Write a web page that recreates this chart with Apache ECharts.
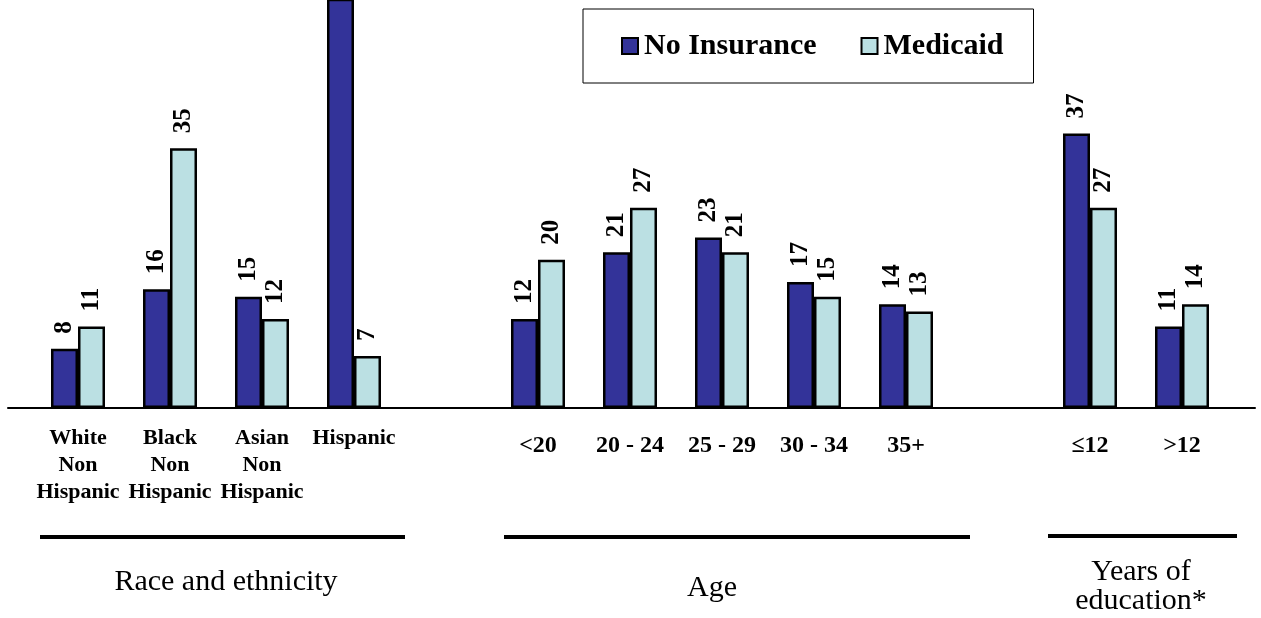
<!DOCTYPE html>
<html>
<head>
<meta charset="utf-8">
<script src="https://cdn.jsdelivr.net/npm/echarts@6/dist/echarts.min.js"></script>
<style>
html,body{margin:0;padding:0;background:#fff;}
#chart{width:1261px;height:618px;}
</style>
</head>
<body>
<div id="chart"></div>
<script>
// ---- data ----
var categories = ['White\nNon\nHispanic', 'Black\nNon\nHispanic', 'Asian\nNon\nHispanic', 'Hispanic', ' ',
  '<20', '20 - 24', '25 - 29', '30 - 34', '35+', '  ',
  '\u226412', '>12'];
var seriesNames = ['No Insurance', 'Medicaid'];
var noInsurance = [8, 16, 15, 57, null, 12, 21, 23, 17, 14, null, 37, 11];
var medicaid    = [11, 35, 12, 7, null, 20, 27, 21, 15, 13, null, 27, 14];
var groupTitles = ['Race and ethnicity', 'Age', 'Years of\neducation*'];

var FONT = '"Liberation Serif", "Times New Roman", serif';
var chart = echarts.init(document.getElementById('chart'));

function barSeries(name, data, color) {
  return {
    name: name,
    type: 'bar',
    data: data,
    barWidth: 27,
    barGap: '0%',
    clip: true,
    itemStyle: { color: color, borderColor: '#000', borderWidth: 2.5 },
    label: {
      show: true,
      position: 'top',
      rotate: 90,
      align: 'left',
      verticalAlign: 'middle',
      distance: 15,
      fontFamily: FONT,
      fontWeight: 'bold',
      fontSize: 25,
      color: '#000'
    }
  };
}

var option = {
  animation: false,
  backgroundColor: '#fff',
  legend: {
    data: seriesNames,
    left: 583,
    top: 9,
    orient: 'horizontal',
    padding: [22, 30, 22, 38],
    borderColor: '#000',
    borderWidth: 1,
    itemWidth: 16,
    itemHeight: 16,
    itemGap: 44,
    icon: 'rect',
    textStyle: { fontFamily: FONT, fontWeight: 'bold', fontSize: 30, color: '#000', padding: [0, 0, 0, 1] }
  },
  grid: [
    { left: 32, right: 33, top: 0, height: 408, containLabel: false },
    { left: 8, right: 6, top: 0, height: 408, containLabel: false }
  ],
  xAxis: [
    {
      type: 'category',
      gridIndex: 0,
      data: categories,
      boundaryGap: true,
      axisLine: { show: false },
      axisTick: { show: false },
      axisLabel: {
        interval: 0,
        margin: 17,
        formatter: function (v, i) {
          return (i <= 4) ? '{a|' + v + '}' : '{b|' + v + '}';
        },
        rich: {
          a: { fontFamily: FONT, fontWeight: 'bold', fontSize: 22, lineHeight: 27, color: '#000', align: 'center' },
          b: { fontFamily: FONT, fontWeight: 'bold', fontSize: 24, lineHeight: 27, color: '#000', padding: [15, 0, 0, 0], align: 'center' }
        }
      }
    },
    {
      type: 'value',
      gridIndex: 1,
      min: 0, max: 1,
      axisLine: { show: true, onZero: false, lineStyle: { color: '#000', width: 2 } },
      axisTick: { show: false },
      axisLabel: { show: false },
      splitLine: { show: false }
    }
  ],
  yAxis: [
    { type: 'value', gridIndex: 0, min: 0, max: 55, show: false, splitLine: { show: false } },
    { type: 'value', gridIndex: 1, min: 0, max: 1, show: false, splitLine: { show: false } }
  ],
  series: [
    barSeries(seriesNames[0], noInsurance, '#333399'),
    barSeries(seriesNames[1], medicaid, '#BBE0E3')
  ],
  graphic: [
    { type: 'rect', shape: { x: 40, y: 535, width: 365, height: 4 }, style: { fill: '#000' } },
    { type: 'rect', shape: { x: 504, y: 535, width: 466, height: 4 }, style: { fill: '#000' } },
    { type: 'rect', shape: { x: 1048, y: 534, width: 189, height: 4 }, style: { fill: '#000' } },
    { type: 'text', x: 226, y: 582, style: { text: groupTitles[0], font: '30px ' + FONT, fill: '#000', align: 'center', verticalAlign: 'middle' } },
    { type: 'text', x: 712, y: 588, style: { text: groupTitles[1], font: '30px ' + FONT, fill: '#000', align: 'center', verticalAlign: 'middle' } },
    { type: 'text', x: 1141, y: 587, style: { text: groupTitles[2], font: '30px ' + FONT, lineHeight: 29, fill: '#000', align: 'center', verticalAlign: 'middle' } }
  ]
};
chart.setOption(option);
</script>
</body>
</html>
